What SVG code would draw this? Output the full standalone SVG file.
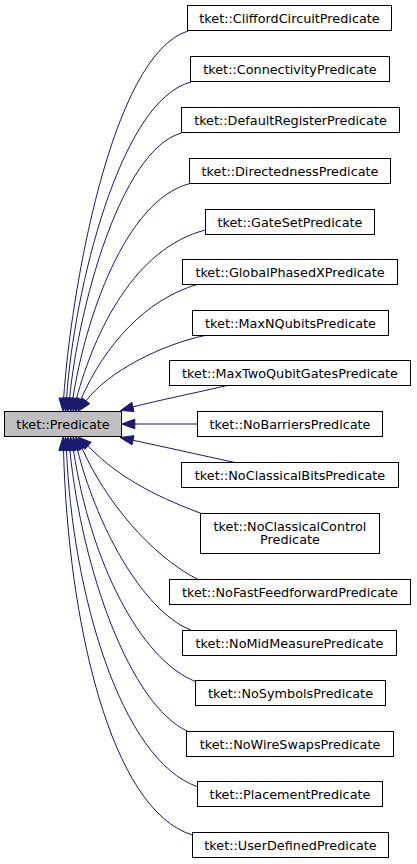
<svg xmlns="http://www.w3.org/2000/svg" width="417" height="864" viewBox="0 0 417 864">
<style>
.n rect{fill:#ffffff;stroke:#000000;stroke-width:1}
.b rect{fill:#bfbfbf;stroke:#000000;stroke-width:1}
text{font-family:"DejaVu Sans",sans-serif;font-size:12.8px;text-anchor:middle;fill:#000000}
.e path{fill:none;stroke:#191970;stroke-width:1}
.e polygon{fill:#191970;stroke:#191970;stroke-width:1}
</style>
<rect width="417" height="864" fill="#ffffff"/>
<g id="edges" class="e">
<path d="M188,31 C110,55 70,300 63.67,398.2"/><polygon points="58.98,397.98 63,411.5 68.36,398.46"/>
<path d="M191,82 C120,100 74,290 66.56,398.24"/><polygon points="61.88,397.86 65.5,411.5 71.25,398.62"/>
<path d="M181.5,133 C120,150 78,310 69.6,398.3"/><polygon points="64.93,397.74 68,411.5 74.27,398.86"/>
<path d="M190,183.5 C125,200 85,320 72.89,398.42"/><polygon points="68.27,397.57 70.5,411.5 77.51,399.27"/>
<path d="M205.5,230 C135,248 95,330 76.46,398.66"/><polygon points="71.92,397.44 73,411.5 81,399.88"/>
<path d="M197,284.5 C145,300 105,345 80.82,399.31"/><polygon points="76.51,397.43 75.5,411.5 85.13,401.19"/>
<path d="M205,335.5 C160,345 108,372 85.98,400.86"/><polygon points="82.22,398.04 78,411.5 89.74,403.68"/>
<path d="M227,385.5 C195,393 160,400 132.93,406.89"/><polygon points="134.03,411.46 120.5,410.5 131.83,402.32"/>
<path d="M197.5,424 L134.8,424"/><polygon points="134.8,419.3 121.5,424 134.8,428.7"/>
<path d="M235,462.5 C200,455 165,447 133,440.27"/><polygon points="133.98,435.67 120,437.5 132.02,444.87"/>
<path d="M201.5,513.5 C165,500 120,480 87.98,445.8"/><polygon points="91.08,442.27 78,437 84.88,449.33"/>
<path d="M198,579.5 C150,555 105,500 82.15,448.52"/><polygon points="86.22,446.17 75.5,437 78.08,450.87"/>
<path d="M191.7,630.5 C140,610 95,520 77.39,449.56"/><polygon points="81.83,448.01 73,437 72.95,451.11"/>
<path d="M195.5,681.5 C140,660 90,560 73.43,449.97"/><polygon points="78.01,448.94 70.5,437 68.85,451"/>
<path d="M188,731.5 C130,705 82,570 69.86,450.17"/><polygon points="74.51,449.51 68,437 65.21,450.83"/>
<path d="M197.5,786.7 C120,760 72,590 66.56,450.26"/><polygon points="71.25,449.88 65.5,437 61.87,450.64"/>
<path d="M192.5,835 C110,810 68,620 63.53,450.29"/><polygon points="68.23,450.1 63,437 58.83,450.48"/>
</g>
<g id="node_base" class="b"><rect x="4.5" y="411.5" width="117" height="25"/><text x="63" y="428.5">tket::Predicate</text></g>
<g id="node_clifford" class="n"><rect x="187.5" y="5.5" width="204" height="25"/><text x="289.5" y="22.5">tket::CliffordCircuitPredicate</text></g>
<g id="node_connectivity" class="n"><rect x="190.5" y="56.5" width="199" height="25"/><text x="290" y="73.5">tket::ConnectivityPredicate</text></g>
<g id="node_defaultregister" class="n"><rect x="181.5" y="107.5" width="218" height="25"/><text x="290.5" y="124.5">tket::DefaultRegisterPredicate</text></g>
<g id="node_directedness" class="n"><rect x="189.5" y="158.5" width="201" height="25"/><text x="290" y="175.5">tket::DirectednessPredicate</text></g>
<g id="node_gateset" class="n"><rect x="205.5" y="209.5" width="169" height="25"/><text x="290" y="226.5">tket::GateSetPredicate</text></g>
<g id="node_globalphasedx" class="n"><rect x="182.5" y="259.5" width="215" height="25"/><text x="290" y="276.5">tket::GlobalPhasedXPredicate</text></g>
<g id="node_maxnqubits" class="n"><rect x="192.5" y="310.5" width="196" height="25"/><text x="290.5" y="327.5">tket::MaxNQubitsPredicate</text></g>
<g id="node_maxtwoqubitgates" class="n"><rect x="169.5" y="360.5" width="241" height="25"/><text x="290" y="377.5">tket::MaxTwoQubitGatesPredicate</text></g>
<g id="node_nobarriers" class="n"><rect x="197.5" y="411.5" width="185" height="25"/><text x="290" y="428.5">tket::NoBarriersPredicate</text></g>
<g id="node_noclassicalbits" class="n"><rect x="181.5" y="462.5" width="217" height="25"/><text x="290" y="479.5">tket::NoClassicalBitsPredicate</text></g>
<g id="node_noclassicalcontrol" class="n"><rect x="200.5" y="513.5" width="179" height="40"/><text x="290" y="530.5">tket::NoClassicalControl</text><text x="290" y="544">Predicate</text></g>
<g id="node_nofastfeedforward" class="n"><rect x="169.5" y="579.5" width="241" height="25"/><text x="290" y="596.5">tket::NoFastFeedforwardPredicate</text></g>
<g id="node_nomidmeasure" class="n"><rect x="182.5" y="630.5" width="214" height="25"/><text x="289.5" y="647.5">tket::NoMidMeasurePredicate</text></g>
<g id="node_nosymbols" class="n"><rect x="195.5" y="680.5" width="190" height="25"/><text x="290.5" y="697.5">tket::NoSymbolsPredicate</text></g>
<g id="node_nowireswaps" class="n"><rect x="186.5" y="731.5" width="207" height="25"/><text x="290" y="748.5">tket::NoWireSwapsPredicate</text></g>
<g id="node_placement" class="n"><rect x="197.5" y="781.5" width="185" height="25"/><text x="290" y="798.5">tket::PlacementPredicate</text></g>
<g id="node_userdefined" class="n"><rect x="192.5" y="832.5" width="196" height="25"/><text x="290.5" y="849.5">tket::UserDefinedPredicate</text></g>
</svg>
